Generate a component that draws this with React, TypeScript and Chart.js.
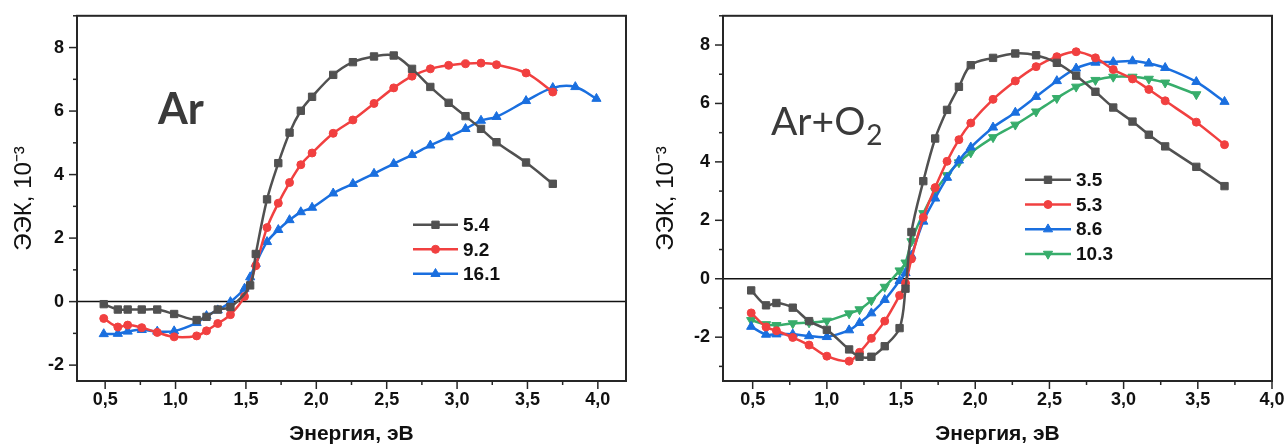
import React, { useEffect, useRef } from 'react';
import { Chart, registerables } from 'chart.js';

Chart.register(...registerables);

// ---------- Left panel: Ar ----------
const energyAr = [0.49, 0.59, 0.66, 0.76, 0.87, 0.99, 1.15, 1.22, 1.30, 1.39, 1.49, 1.53, 1.57, 1.65, 1.73, 1.81, 1.89, 1.97, 2.12, 2.26, 2.41, 2.55, 2.68, 2.81, 2.94, 3.06, 3.17, 3.28, 3.49, 3.68, 3.84, 3.99];
const ar54 = [-0.08, -0.25, -0.25, -0.25, -0.25, -0.39, -0.58, -0.48, -0.25, -0.17, null, 0.51, 1.5, 3.22, 4.36, 5.32, 6.01, 6.45, 7.14, 7.54, 7.72, 7.75, 7.33, 6.76, 6.26, 5.84, 5.44, 5.02, 4.38, 3.71, null, null];
const ar92 = [-0.53, -0.8, -0.74, -0.82, -0.97, -1.11, -1.08, -0.92, -0.69, -0.41, 0.16, null, 1.13, 2.33, 3.1, 3.75, 4.31, 4.68, 5.3, 5.72, 6.24, 6.73, 7.1, 7.33, 7.44, 7.49, 7.51, 7.46, 7.2, 6.6, null, null];
const ar161 = [-1.02, -1.01, -0.94, -0.89, -0.94, -0.93, -0.67, -0.45, -0.27, -0.01, 0.41, 0.77, 1.19, 1.88, 2.26, 2.57, 2.82, 2.96, 3.41, 3.71, 4.03, 4.34, 4.62, 4.92, 5.18, 5.44, 5.7, 5.82, 6.32, 6.73, 6.76, 6.39];
const arLegend = ['5.4', '9.2', '16.1'];

// ---------- Right panel: Ar+O2 ----------
const energyO2 = [0.49, 0.59, 0.66, 0.77, 0.88, 1.0, 1.15, 1.22, 1.30, 1.39, 1.49, 1.53, 1.57, 1.65, 1.73, 1.81, 1.89, 1.97, 2.12, 2.27, 2.41, 2.55, 2.68, 2.81, 2.93, 3.06, 3.17, 3.28, 3.49, 3.68];
const o35 = [-0.4, -0.91, -0.83, -0.99, -1.45, -1.75, -2.42, -2.67, -2.67, -2.31, -1.69, -0.34, 1.6, 3.34, 4.8, 5.78, 6.57, 7.31, 7.56, 7.71, 7.65, 7.39, 6.95, 6.4, 5.86, 5.38, 4.93, 4.53, 3.83, 3.17];
const o53 = [-1.17, -1.65, -1.78, -2.01, -2.27, -2.65, -2.82, -2.52, -2.04, -1.45, -0.57, -0.15, 0.68, 2.1, 3.12, 4.02, 4.76, 5.33, 6.14, 6.77, 7.26, 7.6, 7.77, 7.56, 7.16, 6.84, 6.48, 6.09, 5.36, 4.59];
const o86 = [-1.64, -1.91, -1.9, -1.9, -1.96, -1.99, -1.76, -1.51, -1.18, -0.72, -0.07, 0.2, 0.79, 1.96, 2.75, 3.46, 4.05, 4.5, 5.18, 5.69, 6.23, 6.77, 7.2, 7.4, 7.42, 7.45, 7.37, 7.22, 6.74, 6.06];
const o103 = [-1.42, -1.56, -1.59, -1.53, -1.5, -1.44, -1.19, -1.05, -0.74, -0.28, 0.28, 0.55, 1.28, 2.24, 3.0, 3.54, 3.98, 4.32, 4.84, 5.27, 5.72, 6.18, 6.57, 6.8, 6.91, 6.91, 6.84, 6.71, 6.31, null];
const o2Legend = ['3.5', '5.3', '8.6', '10.3'];

// ---------- Axes ----------
const xTicks = [0.5, 1.0, 1.5, 2.0, 2.5, 3.0, 3.5, 4.0];
const yTicks = [-2, 0, 2, 4, 6, 8];
const xTitle = 'Энергия, эВ';
const yTitle = 'ЭЭК, 10⁻³';

const COLORS = ['#515151', '#F14040', '#1A6FDF', '#37AD6B'];
const STYLES = [
  { pointStyle: 'rect', pointRadius: 5.2, pointRotation: 0 },
  { pointStyle: 'circle', pointRadius: 4, pointRotation: 0 },
  { pointStyle: 'triangle', pointRadius: 5.3, pointRotation: 0 },
  { pointStyle: 'triangle', pointRadius: 5.3, pointRotation: 180 },
];
const FONT = '"Liberation Sans", Arial, sans-serif';

const fmt = (v: number) => v.toFixed(1).replace('.', ',');

function drawMarker(ctx: CanvasRenderingContext2D, style: string, r: number, rot: number, x: number, y: number) {
  ctx.beginPath();
  if (style === 'rect') {
    const s = Math.SQRT1_2 * r;
    ctx.rect(x - s, y - s, 2 * s, 2 * s);
  } else if (style === 'circle') {
    ctx.arc(x, y, r, 0, Math.PI * 2);
  } else {
    let a = (rot * Math.PI) / 180;
    ctx.moveTo(x + Math.sin(a) * r, y - Math.cos(a) * r);
    for (let k = 0; k < 2; k++) {
      a += (2 * Math.PI) / 3;
      ctx.lineTo(x + Math.sin(a) * r, y - Math.cos(a) * r);
    }
    ctx.closePath();
  }
  ctx.fill();
  ctx.stroke();
}

const framePlugin = {
  id: 'frame',
  beforeDatasetsDraw(chart: any) {
    const { ctx, chartArea: a, scales } = chart;
    const y0 = scales.y.getPixelForValue(0);
    ctx.save();
    ctx.strokeStyle = '#111';
    ctx.lineWidth = 1.5;
    ctx.beginPath();
    ctx.moveTo(a.left, y0);
    ctx.lineTo(a.right, y0);
    ctx.stroke();
    ctx.restore();
  },
  afterDraw(chart: any) {
    const { ctx, chartArea: a, scales } = chart;
    ctx.save();
    ctx.strokeStyle = '#262626';
    ctx.lineWidth = 2;
    ctx.strokeRect(a.left, a.top, a.right - a.left, a.bottom - a.top);
    ctx.lineWidth = 1.5;
    const drawTicks = (scale: any, horizontal: boolean) => {
      const vals = scale.ticks.map((t: any) => t.value);
      const step = vals[1] - vals[0];
      const half = step / 2;
      const k0 = Math.ceil(scale.min / half - 1e-6);
      const k1 = Math.floor(scale.max / half + 1e-6);
      for (let k = k0; k <= k1; k++) {
        const v = k * half;
        const major = vals.some((m: number) => Math.abs(m - v) < 1e-6);
        const len = major ? 8 : 4;
        const p = scale.getPixelForValue(v);
        ctx.beginPath();
        if (horizontal) {
          ctx.moveTo(p, a.bottom);
          ctx.lineTo(p, a.bottom + len);
        } else {
          ctx.moveTo(a.left, p);
          ctx.lineTo(a.left - len, p);
        }
        ctx.stroke();
      }
    };
    drawTicks(scales.x, true);
    drawTicks(scales.y, false);
    ctx.restore();
  },
};

const insetLegend = {
  id: 'insetLegend',
  afterDatasetsDraw(chart: any, _args: any, opts: any) {
    const { ctx, chartArea: a } = chart;
    chart.data.datasets.forEach((ds: any, i: number) => {
      const y = a.top + opts.top + i * opts.row;
      const x0 = a.left + opts.left;
      const x1 = x0 + opts.lineLen;
      ctx.save();
      ctx.strokeStyle = ds.borderColor;
      ctx.lineWidth = ds.borderWidth;
      ctx.beginPath();
      ctx.moveTo(x0, y);
      ctx.lineTo(x1, y);
      ctx.stroke();
      ctx.fillStyle = ds.pointBackgroundColor;
      ctx.lineWidth = 1;
      drawMarker(ctx, ds.pointStyle, ds.pointRadius, ds.pointRotation, (x0 + x1) / 2, y);
      ctx.fillStyle = '#111';
      ctx.font = `bold 19px ${FONT}`;
      ctx.textBaseline = 'middle';
      ctx.textAlign = 'left';
      ctx.fillText(ds.label, x1 + opts.gap, y + 1);
      ctx.restore();
    });
  },
};

const panelLabel = {
  id: 'panelLabel',
  afterDatasetsDraw(chart: any, _args: any, opts: any) {
    const { ctx, chartArea: a } = chart;
    const x = a.left + opts.left;
    const y = a.top + opts.baseline;
    ctx.save();
    ctx.fillStyle = opts.color;
    ctx.textBaseline = 'alphabetic';
    ctx.textAlign = 'left';
    ctx.font = `${opts.weight} ${opts.size}px Lato, "Open Sans", sans-serif`;
    ctx.fillText(opts.text, x, y);
    if (opts.sub) {
      const w = ctx.measureText(opts.text).width;
      ctx.font = `${opts.weight} ${opts.subSize}px Lato, "Open Sans", sans-serif`;
      ctx.fillText(opts.sub, x + w + 1, y + opts.subDrop);
    }
    ctx.restore();
  },
};

function makeDatasets(energy: number[], series: (number | null)[][], labels: string[]) {
  return series.map((vals, i) => ({
    label: labels[i],
    data: energy.map((x, j) => ({ x, y: vals[j] })),
    borderColor: COLORS[i],
    backgroundColor: COLORS[i],
    pointBackgroundColor: COLORS[i],
    pointBorderColor: COLORS[i],
    pointBorderWidth: 1,
    borderWidth: 2.5,
    tension: 0.35,
    spanGaps: true,
    ...STYLES[i],
  }));
}

function makeConfig(p: any) {
  const tickFont = { family: FONT, size: 18, weight: 'bold' as const };
  return {
    type: 'line' as const,
    data: { datasets: makeDatasets(p.energy, p.series, p.labels) },
    plugins: [framePlugin, insetLegend, panelLabel],
    options: {
      animation: false,
      responsive: false,
      events: [],
      layout: { padding: { left: 0, top: 14, right: p.padRight, bottom: 0 } },
      plugins: {
        legend: { display: false },
        tooltip: { enabled: false },
        insetLegend: p.legend,
        panelLabel: p.label,
      },
      scales: {
        x: {
          type: 'linear',
          min: p.xMin,
          max: p.xMax,
          afterFit: (s: any) => { s.height = 64; },
          afterBuildTicks: (s: any) => { s.ticks = xTicks.map((v) => ({ value: v })); },
          ticks: { callback: (v: any) => fmt(Number(v)), font: tickFont, color: '#111', padding: 0, maxRotation: 0, autoSkip: false },
          grid: { display: true, drawOnChartArea: false, drawTicks: true, tickLength: 8, color: 'rgba(0,0,0,0)' },
          border: { display: false },
          title: { display: true, text: xTitle, color: '#111', font: { family: FONT, size: 21, weight: 'bold', lineHeight: 1 }, padding: { top: 0, bottom: 0 } },
        },
        y: {
          type: 'linear',
          min: p.yMin,
          max: p.yMax,
          afterFit: (s: any) => { s.width = p.yWidth; },
          afterBuildTicks: (s: any) => { s.ticks = yTicks.map((v) => ({ value: v })); },
          ticks: { callback: (v: any) => String(v), font: tickFont, color: '#111', padding: 5, autoSkip: false },
          grid: { display: true, drawOnChartArea: false, drawTicks: true, tickLength: 8, color: 'rgba(0,0,0,0)' },
          border: { display: false },
          title: { display: true, text: yTitle, color: '#111', font: { family: FONT, size: 24, weight: 'normal', lineHeight: 1.2 }, padding: { top: p.yTitlePad, bottom: 0 } },
        },
      },
    },
  };
}

const leftPanel = {
  energy: energyAr,
  series: [ar54, ar92, ar161],
  labels: arLegend,
  xMin: 0.3, xMax: 4.2, yMin: -2.5, yMax: 9,
  padRight: 14, yWidth: 77, yTitlePad: 10,
  legend: { left: 336, top: 209, row: 24.5, lineLen: 45, gap: 5 },
  label: { text: 'Ar', left: 81, baseline: 108, size: 43, weight: 'bold', color: '#3a3a3a' },
};

const rightPanel = {
  energy: energyO2,
  series: [o35, o53, o86, o103],
  labels: o2Legend,
  xMin: 0.3, xMax: 4.0, yMin: -3.5, yMax: 9,
  padRight: 15, yWidth: 78, yTitlePad: 7,
  legend: { left: 302, top: 164, row: 24.7, lineLen: 46, gap: 5 },
  label: { text: 'Ar+O', sub: '2', left: 48, baseline: 119, size: 39, subSize: 28, subDrop: 10, weight: 'normal', color: '#3a3a3a' },
};

function Panel({ cfg, left, width }: { cfg: any; left: number; width: number }) {
  const ref = useRef<HTMLCanvasElement | null>(null);
  useEffect(() => {
    if (!ref.current) return;
    const chart = new Chart(ref.current, makeConfig(cfg) as any);
    return () => chart.destroy();
  }, []);
  return (
    <canvas
      ref={ref}
      width={width}
      height={445}
      style={{ position: 'absolute', left, top: 0, width, height: 445 }}
    />
  );
}

export default function App() {
  return (
    <div style={{ position: 'absolute', left: 0, top: 0, width: 1287, height: 445, background: '#fff', overflow: 'hidden' }}>
      <Panel cfg={leftPanel} left={0} width={640} />
      <Panel cfg={rightPanel} left={645} width={642} />
    </div>
  );
}
